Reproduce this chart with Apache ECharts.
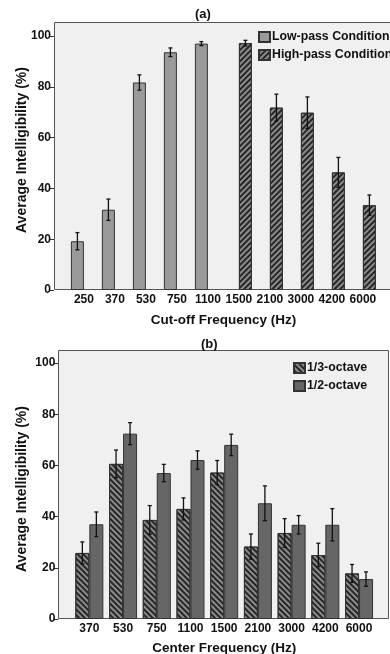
<!DOCTYPE html>
<html>
<head>
<meta charset="utf-8">
<script src="https://cdn.jsdelivr.net/npm/echarts@6/dist/echarts.min.js"></script>
<style>
  html, body { margin: 0; padding: 0; background: #fff; }
  #main { width: 390px; height: 654px; }
</style>
</head>
<body>
<div id="main"></div>
<script>
// (a) low-pass / high-pass cut-off
var cutoffFreq = ['250', '370', '530', '750', '1100', '1500', '2100', '3000', '4200', '6000'];
var lowPass = [19.2, 31.6, 81.7, 93.6, 97.0, null, null, null, null, null];
var lowPassErr = [3.4, 4.2, 3.0, 1.7, 0.8, null, null, null, null, null];
var highPass = [null, null, null, null, null, 97.2, 71.8, 69.8, 46.3, 33.4];
var highPassErr = [null, null, null, null, null, 1.1, 5.3, 6.2, 5.9, 4.0];

// (b) octave bands
var centerFreq = ['370', '530', '750', '1100', '1500', '2100', '3000', '4200', '6000'];
var thirdOct = [25.8, 60.6, 38.7, 43.0, 57.2, 28.3, 33.6, 25.0, 17.8];
var thirdOctErr = [4.3, 5.4, 5.6, 4.3, 4.7, 4.9, 5.6, 4.6, 3.5];
var halfOct = [37.0, 72.4, 57.0, 62.1, 68.0, 45.2, 36.8, 36.8, 15.6];
var halfOctErr = [4.8, 4.3, 3.4, 3.6, 4.2, 6.8, 3.6, 6.3, 2.8];

var yTicks = [0, 20, 40, 60, 80, 100];

var font = '"Liberation Sans", Arial, sans-serif';

function errData(vals, errs) {
    var out = [];
    for (var i = 0; i < vals.length; i++) {
        if (vals[i] != null) out.push([i, vals[i], errs[i]]);
    }
    return out;
}

// error bar: vertical whisker + caps, shifted by off px from category center
function errRender(off) {
    return function (params, api) {
        var c = api.value(0), v = api.value(1), e = api.value(2);
        var hi = api.coord([c, v + e]);
        var lo = api.coord([c, v - e]);
        var x = hi[0] + off;
        var st = { stroke: '#111', lineWidth: 1.3 };
        return {
            type: 'group',
            children: [
                { type: 'line', shape: { x1: x, y1: hi[1], x2: x, y2: lo[1] }, style: st },
                { type: 'line', shape: { x1: x - 2, y1: hi[1], x2: x + 2, y2: hi[1] }, style: st },
                { type: 'line', shape: { x1: x - 2, y1: lo[1], x2: x + 2, y2: lo[1] }, style: st }
            ]
        };
    };
}

function hatch(rot) {
    return {
        symbol: 'rect',
        symbolSize: 1,
        color: '#262626',
        dashArrayX: [1, 0],
        dashArrayY: [1.6, 1.8],
        rotation: rot
    };
}

function yAxisOpt(idx, off, gap, shift) {
    return {
        gridIndex: idx,
        type: 'value',
        min: yTicks[0],
        max: yTicks[yTicks.length - 1],
        interval: 20,
        offset: off,
        name: 'Average Intelligibility (%)',
        nameLocation: 'middle',
        nameGap: gap,
        nameMoveOverlap: false,
        nameTextStyle: { fontFamily: font, fontWeight: 'bold', fontSize: 14, color: '#111', padding: [0, 0, 0, shift] },
        axisLine: { show: false },
        axisTick: { show: true, length: 5, lineStyle: { color: '#333' } },
        axisLabel: { fontFamily: font, fontWeight: 'bold', fontSize: 12, color: '#111', margin: 3 },
        splitLine: { show: false }
    };
}

function xAxisOpt(idx, cats, name, gap) {
    return {
        gridIndex: idx,
        type: 'category',
        data: cats,
        name: name,
        nameLocation: 'middle',
        nameGap: gap,
        nameTextStyle: { fontFamily: font, fontWeight: 'bold', fontSize: 13.5, color: '#111' },
        axisLine: { show: false },
        axisTick: { show: false },
        axisLabel: { interval: 0, fontFamily: font, fontWeight: 'bold', fontSize: 12, color: '#111', margin: 4 }
    };
}

var barBorder = { borderColor: '#333', borderWidth: 1 };
var legendText = { fontFamily: font, fontWeight: 'bold', fontSize: 12.3, color: '#111', padding: [0, 0, 0, -3] };
var titleText = { fontFamily: font, fontWeight: 'bold', fontSize: 13, color: '#111' };

var chart = echarts.init(document.getElementById('main'));
var option = {
    animation: false,
    title: [
        { text: '(a)', left: 195, top: 8, padding: 0, textStyle: titleText },
        { text: '(b)', left: 201, top: 338, padding: 0, textStyle: titleText }
    ],
    // plot frames (grey panel with border)
    graphic: [
        { type: 'rect', z: -10, shape: { x: 54.5, y: 22.5, width: 340, height: 267 }, style: { fill: '#f0f0f0', stroke: '#555', lineWidth: 1 } },
        { type: 'rect', z: -10, shape: { x: 58.5, y: 350.5, width: 330, height: 268 }, style: { fill: '#f0f0f0', stroke: '#555', lineWidth: 1 } }
    ],
    legend: [
        {
            data: ['Low-pass Condition', 'High-pass Condition'],
            orient: 'vertical', left: 258, top: 31, padding: 0,
            itemWidth: 11, itemHeight: 10, itemGap: 6, icon: 'rect',
            textStyle: legendText
        },
        {
            data: ['1/3-octave', '1/2-octave'],
            orient: 'vertical', left: 293, top: 362, padding: 0,
            itemWidth: 11, itemHeight: 10, itemGap: 6, icon: 'rect',
            textStyle: legendText
        }
    ],
    grid: [
        { left: 68.4, right: 11.6, top: 36, height: 254, outerBoundsMode: 'none' },
        { left: 72.5, right: 14.1, top: 363, height: 256, outerBoundsMode: 'none' }
    ],
    xAxis: [
        xAxisOpt(0, cutoffFreq, 'Cut-off Frequency (Hz)', 23),
        xAxisOpt(1, centerFreq, 'Center Frequency (Hz)', 22)
    ],
    yAxis: [yAxisOpt(0, 14.4, 25, 26), yAxisOpt(1, 14.2, 29, 4)],
    series: [
        {
            name: 'Low-pass Condition', type: 'bar', xAxisIndex: 0, yAxisIndex: 0,
            barWidth: 13, barGap: '0%',
            itemStyle: Object.assign({ color: '#9a9a9a' }, barBorder),
            data: lowPass
        },
        {
            name: 'High-pass Condition', type: 'bar', xAxisIndex: 0, yAxisIndex: 0,
            barWidth: 13, barGap: '0%',
            itemStyle: Object.assign({ color: '#8c8c8c', decal: hatch(-Math.PI / 4) }, barBorder),
            data: highPass
        },
        {
            name: '1/3-octave', type: 'bar', xAxisIndex: 1, yAxisIndex: 1,
            barWidth: 14, barGap: '0%',
            itemStyle: Object.assign({ color: '#8c8c8c', decal: hatch(Math.PI / 4) }, barBorder),
            data: thirdOct
        },
        {
            name: '1/2-octave', type: 'bar', xAxisIndex: 1, yAxisIndex: 1,
            barWidth: 14, barGap: '0%',
            itemStyle: Object.assign({ color: '#666666' }, barBorder),
            data: halfOct
        },
        // error bars
        { type: 'custom', xAxisIndex: 0, yAxisIndex: 0, z: 5, renderItem: errRender(-6.5), encode: { x: 0, y: 1 }, data: errData(lowPass, lowPassErr) },
        { type: 'custom', xAxisIndex: 0, yAxisIndex: 0, z: 5, renderItem: errRender(6.5), encode: { x: 0, y: 1 }, data: errData(highPass, highPassErr) },
        { type: 'custom', xAxisIndex: 1, yAxisIndex: 1, z: 5, renderItem: errRender(-7), encode: { x: 0, y: 1 }, data: errData(thirdOct, thirdOctErr) },
        { type: 'custom', xAxisIndex: 1, yAxisIndex: 1, z: 5, renderItem: errRender(7), encode: { x: 0, y: 1 }, data: errData(halfOct, halfOctErr) }
    ]
};
chart.setOption(option);
</script>
</body>
</html>
